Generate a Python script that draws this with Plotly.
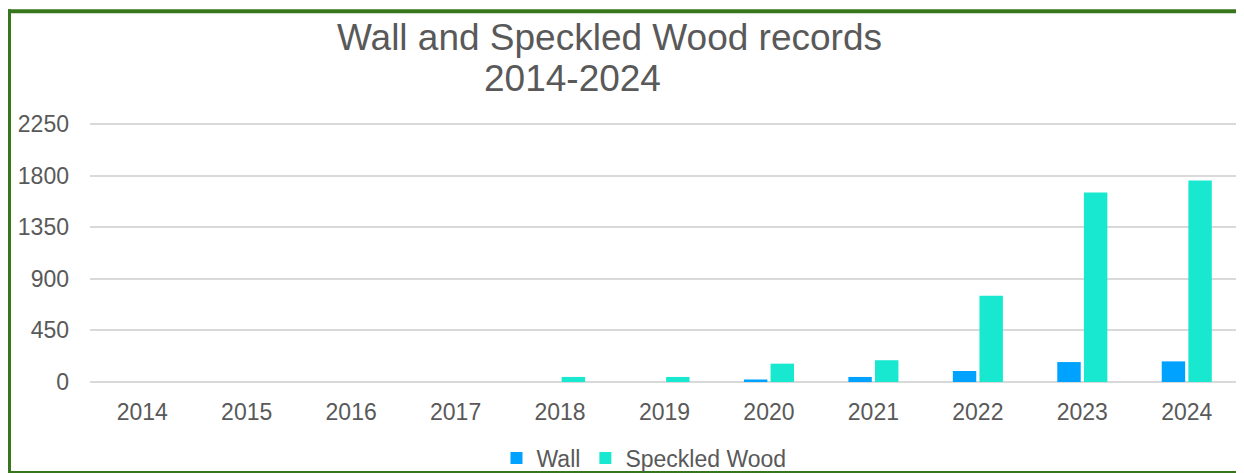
import plotly.graph_objects as go

years = ["2014", "2015", "2016", "2017", "2018", "2019", "2020", "2021", "2022", "2023", "2024"]
wall = [0, 0, 0, 0, 0, 0, 22, 44, 96, 174, 180]
speckled_wood = [0, 0, 0, 0, 44, 44, 160, 190, 752, 1654, 1758]
y_ticks = [0, 450, 900, 1350, 1800, 2250]

# page body has an 8px margin; figure origin sits at screen (8, 8)
OFF = 8
W, H = 1236, 465
Y_TOP = 2260
scale = (382 - 124) / 2250.0          # pixels per unit
L = 90 - OFF
R = W - (1239 - OFF)
B = H - (382 - OFF)
T = (382 - OFF) - Y_TOP * scale
pw, ph = W - L - R, H - T - B

def px(sx):
    return (sx - OFF - L) / pw

def py(sy):
    return (H - B - (sy - OFF)) / ph

font_family = "Liberation Sans, Arial, sans-serif"
grey = "#595959"

fig = go.Figure()
fig.add_trace(go.Bar(x=years, y=wall, name="Wall",
                     marker=dict(color="#00a2ff", line=dict(width=0))))
fig.add_trace(go.Bar(x=years, y=speckled_wood, name="Speckled Wood",
                     marker=dict(color="#18e8d0", line=dict(width=0))))

fig.update_layout(
    width=W, height=H,
    margin=dict(l=L, r=R, t=T, b=B, autoexpand=False),
    paper_bgcolor="white", plot_bgcolor="white",
    barmode="group", bargap=0.49, bargroupgap=0.12,
    font=dict(family=font_family, color=grey, size=23),
    showlegend=True,
    legend=dict(orientation="h", x=px(644), xanchor="center", y=py(458), yanchor="middle",
                font=dict(size=23, color=grey), itemwidth=30, bgcolor="rgba(0,0,0,0)"),
    xaxis=dict(type="category", showgrid=False, showline=False, ticks="",
               tickfont=dict(size=23, color=grey), ticklabelstandoff=14),
    yaxis=dict(range=[0, Y_TOP], tickvals=y_ticks, showgrid=True, gridcolor="#d9d9d9", gridwidth=2,
               zeroline=True, zerolinecolor="#d9d9d9", zerolinewidth=2, showline=False, ticks="",
               tickfont=dict(size=23, color=grey), ticklabelstandoff=20),
)

fig.add_annotation(text="Wall and Speckled Wood records", x=px(609), y=py(37), xref="paper", yref="paper",
                   xanchor="center", yanchor="middle", showarrow=False,
                   font=dict(size=37, color=grey, family=font_family))
fig.add_annotation(text="2014-2024", x=px(572), y=py(78), xref="paper", yref="paper",
                   xanchor="center", yanchor="middle", showarrow=False,
                   font=dict(size=37, color=grey, family=font_family))

green = "#38761d"
border = [
    (9, 9, 9, 473, 4),
    (4, 11, 1244, 11, 4),
    (1242.5, 9, 1242.5, 473, 2),
    (4, 472, 1244, 472, 2),
]
for x0, y0, x1, y1, w in border:
    fig.add_shape(type="line", xref="paper", yref="paper", x0=px(x0), y0=py(y0), x1=px(x1), y1=py(y1),
                  line=dict(color=green, width=w), layer="above")

fig.write_html("out.html")
